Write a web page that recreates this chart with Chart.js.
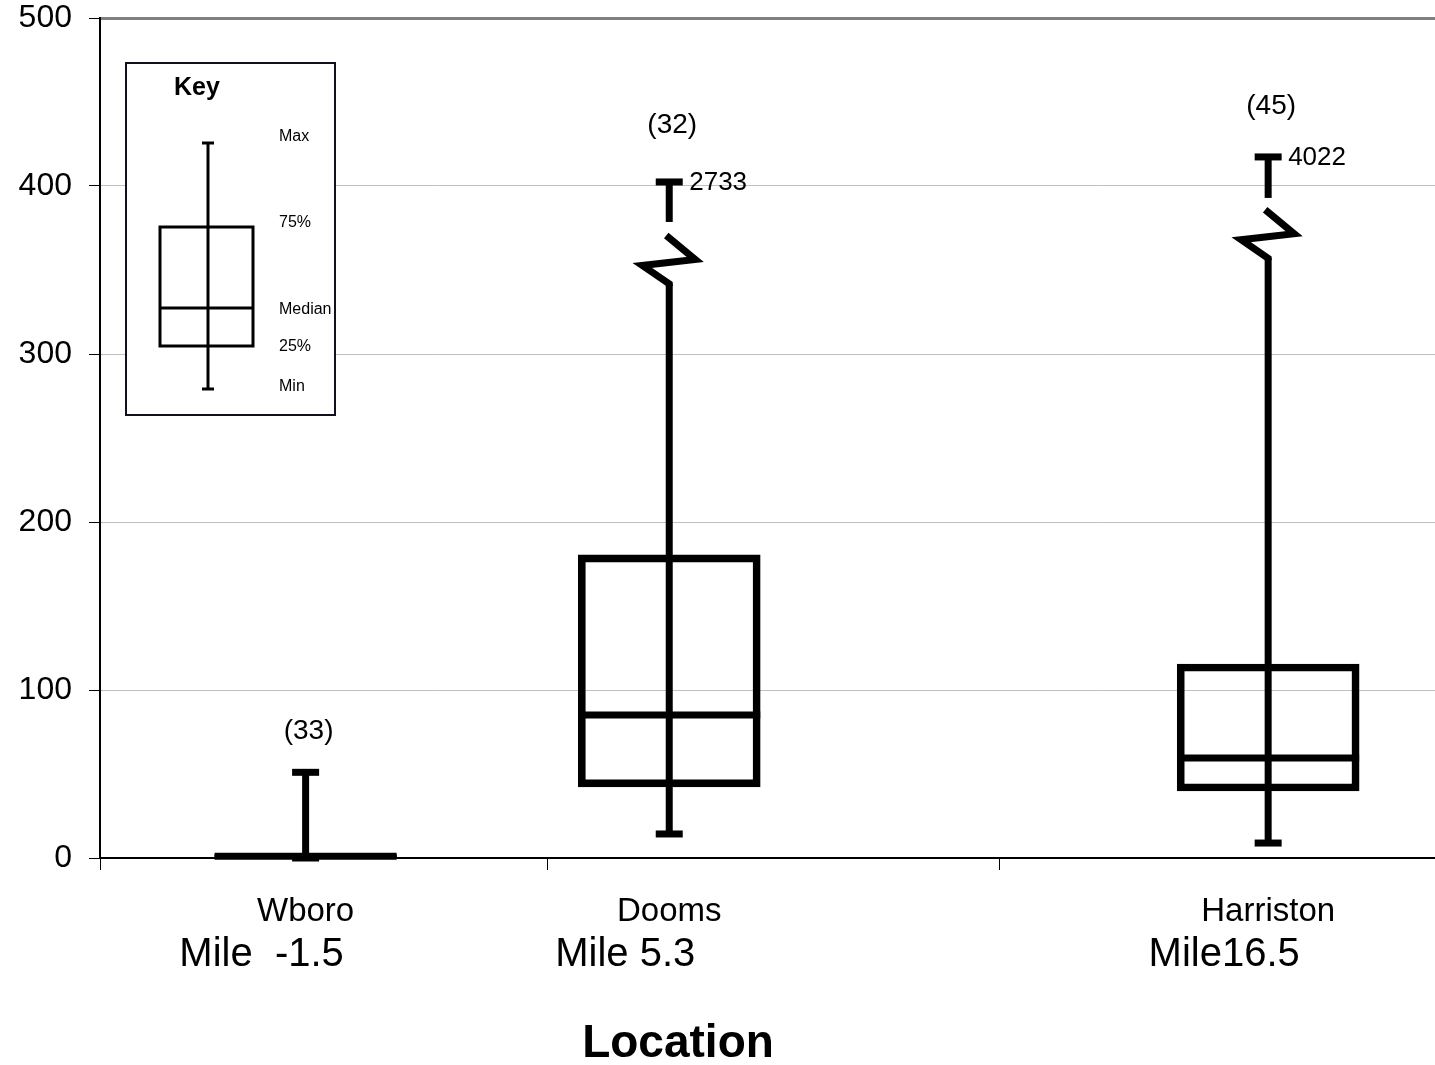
<!DOCTYPE html>
<html>
<head>
<meta charset="utf-8">
<script src="https://cdn.jsdelivr.net/npm/chart.js@4/dist/chart.umd.min.js"></script>
<style>
html,body{margin:0;padding:0;background:#fff;}
#wrap{width:1435px;height:1065px;position:relative;}
</style>
</head>
<body>
<div id="wrap"><canvas id="c" width="1435" height="1065"></canvas></div>
<script>
// ---- data ----
const locations = ['Wboro', 'Dooms', 'Harriston'];
const miles = [-1.5, 5.3, 16.5];
const mileLabels = ['Mile  -1.5', 'Mile 5.3', 'Mile16.5'];
const sampleCounts = [33, 32, 45];
const minValues = [0, 14.3, 8.9];
const q1Values = [0, 42.3, 39.9];
const medianValues = [1, 85.1, 59.5];
const q3Values = [2, 180.4, 115.5];
const maxValues = [51, 2733, 4022];
// the broken whiskers: value where the max cap is drawn, and where the break sits
const maxPlotted = [51, 402.4, 417.3];
const breakLower = [null, 341.7, 357];
const breakUpper = [null, 378.6, 392.9];
const yTicks = [0, 100, 200, 300, 400, 500];
const xRange = [-5.345, 19.62];
const xTickMarks = [-5.345, 3.03, 11.47];
const keyLabels = ['Max', '75%', 'Median', '25%', 'Min'];

const FONT = "'Liberation Sans', Arial, sans-serif";

const boxData = miles.map((m, i) => ({x: m, y: [q1Values[i], q3Values[i]]}));

const extrasPlugin = {
  id: 'boxExtras',
  afterDatasetsDraw(chart) {
    const {ctx, scales: {x, y}, chartArea} = chart;
    ctx.save();
    ctx.strokeStyle = '#000';
    ctx.fillStyle = '#000';
    ctx.lineCap = 'butt';
    ctx.lineJoin = 'miter';
    const seg = (x1, y1, x2, y2, w) => {
      ctx.lineWidth = w;
      ctx.beginPath(); ctx.moveTo(x1, y1); ctx.lineTo(x2, y2); ctx.stroke();
    };
    const countGap = [41, 57, 51];
    miles.forEach((m, i) => {
      const cx = x.getPixelForValue(m);
      const half = 91;
      // median
      const ym = y.getPixelForValue(medianValues[i]);
      seg(cx - half, ym, cx + half, ym, 7);
      // whiskers
      const yMin = y.getPixelForValue(minValues[i]);
      const yMax = y.getPixelForValue(maxPlotted[i]);
      if (breakLower[i] === null) {
        seg(cx, yMin, cx, yMax, 7);
      } else {
        const yb = y.getPixelForValue(breakLower[i]);
        const yu = y.getPixelForValue(breakUpper[i]);
        seg(cx, yMin, cx, yb, 7);
        // zigzag break symbol
        ctx.lineWidth = 7;
        ctx.beginPath();
        ctx.moveTo(cx, yb + 2);
        ctx.lineTo(cx, yb);
        ctx.lineTo(cx - 27, yb - 18.5);
        ctx.lineTo(cx + 26, yb - 24.5);
        ctx.lineTo(cx - 3, yb - 48.5);
        ctx.stroke();
        seg(cx, yu, cx, yMax, 7);
        // actual max label
        ctx.font = '26px ' + FONT;
        ctx.textAlign = 'left';
        ctx.textBaseline = 'middle';
        ctx.fillText(String(maxValues[i]), cx + 20, yMax + 1);
      }
      // caps
      seg(cx - 13.5, yMin, cx + 13.5, yMin, 7);
      seg(cx - 13.5, yMax, cx + 13.5, yMax, 7);
      // sample count
      ctx.font = '28px ' + FONT;
      ctx.textAlign = 'center';
      ctx.textBaseline = 'middle';
      ctx.fillText('(' + sampleCounts[i] + ')', cx + 3, yMax - countGap[i]);
      // category labels
      ctx.font = '33px ' + FONT;
      ctx.fillText(locations[i], cx, 912);
      ctx.font = '40px ' + FONT;
      ctx.fillText(mileLabels[i], cx - 44, 955);
    });
    // axis title
    ctx.font = 'bold 46px ' + FONT;
    ctx.textAlign = 'center';
    ctx.textBaseline = 'middle';
    ctx.fillText('Location', 678, 1044);

    // key (legend) box
    const kx = chartArea.left + 26, ky = chartArea.top + 45;
    ctx.fillStyle = '#fff';
    ctx.fillRect(kx, ky, 209, 352);
    ctx.strokeStyle = '#10101e';
    ctx.lineWidth = 2;
    ctx.strokeRect(kx, ky, 209, 352);
    ctx.fillStyle = '#000';
    ctx.strokeStyle = '#000';
    ctx.font = 'bold 25px ' + FONT;
    ctx.textAlign = 'center';
    ctx.fillText('Key', kx + 71, ky + 25);
    const wx = kx + 82;
    ctx.lineWidth = 3;
    ctx.beginPath(); ctx.moveTo(wx, ky + 80); ctx.lineTo(wx, ky + 326); ctx.stroke();
    ctx.beginPath(); ctx.moveTo(wx - 6, ky + 80); ctx.lineTo(wx + 6, ky + 80); ctx.stroke();
    ctx.beginPath(); ctx.moveTo(wx - 6, ky + 326); ctx.lineTo(wx + 6, ky + 326); ctx.stroke();
    ctx.strokeRect(kx + 34, ky + 164, 93, 119);
    ctx.beginPath(); ctx.moveTo(kx + 34, ky + 245); ctx.lineTo(kx + 127, ky + 245); ctx.stroke();
    ctx.font = '16px ' + FONT;
    ctx.textAlign = 'left';
    const ly = [74, 160, 247, 284, 324];
    keyLabels.forEach((t, j) => ctx.fillText(t, kx + 153, ky + ly[j]));
    ctx.restore();
  }
};

new Chart(document.getElementById('c'), {
  type: 'bar',
  data: {
    datasets: [{
      data: boxData,
      backgroundColor: 'rgba(0,0,0,0)',
      borderColor: '#000',
      borderWidth: 7,
      borderSkipped: false,
      barThickness: 182
    }]
  },
  options: {
    responsive: false,
    animation: false,
    layout: {padding: {top: 18, right: 0, bottom: 0, left: 0}},
    plugins: {legend: {display: false}, tooltip: {enabled: false}},
    scales: {
      x: {
        type: 'linear',
        min: xRange[0],
        max: xRange[1],
        offset: false,
        afterBuildTicks: s => { s.ticks = xTickMarks.map(v => ({value: v})); },
        afterFit: s => { s.height = 207; s.paddingLeft = 0; s.paddingRight = 0; },
        grid: {offset: false, drawOnChartArea: false, drawTicks: true, tickLength: 12, color: '#000', lineWidth: 1},
        border: {color: '#000', width: 2},
        ticks: {display: false}
      },
      y: {
        min: 0,
        max: 500,
        afterBuildTicks: s => { s.ticks = yTicks.map(v => ({value: v})); },
        afterFit: s => { s.width = 100; s.paddingTop = 0; s.paddingBottom = 0; },
        grid: {
          color: c => c.tick && c.tick.value === 500 ? '#808080' : (c.tick && c.tick.value === 0 ? '#000' : '#c0c0c0'),
          lineWidth: c => c.tick && c.tick.value === 500 ? 3 : 1,
          tickColor: '#000',
          tickWidth: 1,
          tickLength: 11
        },
        border: {color: '#000', width: 2},
        ticks: {font: {family: FONT, size: 32}, color: '#000', padding: 17}
      }
    }
  },
  plugins: [extrasPlugin]
});
</script>
</body>
</html>
